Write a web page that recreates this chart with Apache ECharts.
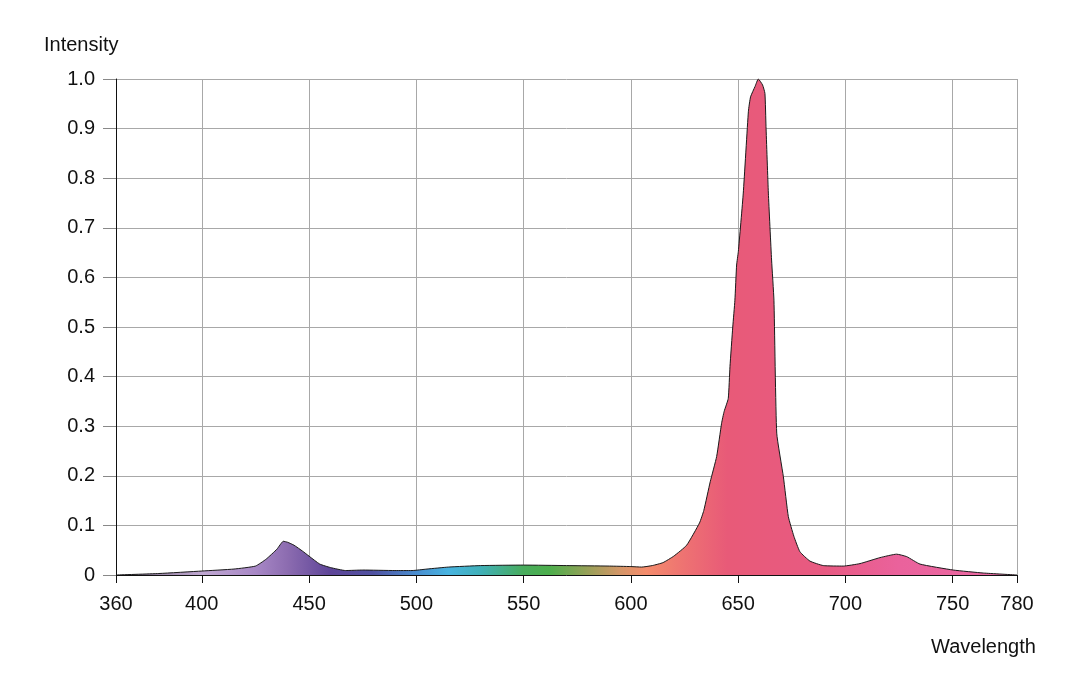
<!DOCTYPE html>
<html>
<head>
<meta charset="utf-8">
<script src="https://cdn.jsdelivr.net/npm/echarts@6/dist/echarts.min.js"></script>
<style>html,body{margin:0;padding:0;background:#fff}#c{width:1080px;height:693px}</style>
</head>
<body>
<div id="c"></div>
<script>
const wavelengths = [360,380,400,415,425,430,435,438,440,443,447,450,455,460,467,475,490,498,505,515,530,550,570,590,600,605,610,615,620,626,632,634,637,640,642.3,643.5,645.4,646.2,647.5,648.5,649.3,650.1,652.4,654.8,655.8,657.9,659.4,661.4,662.5,663,664.1,665.6,666.7,668,671.1,673.4,676,678.8,683.5,689.7,699,706.8,716.1,723.9,728.6,734.8,750.3,764.3,780];
const intensity = [0,0.003,0.008,0.012,0.018,0.032,0.052,0.068,0.066,0.06,0.048,0.038,0.022,0.015,0.009,0.010,0.009,0.009,0.012,0.016,0.019,0.020,0.019,0.018,0.017,0.016,0.019,0.025,0.038,0.06,0.105,0.13,0.188,0.239,0.306,0.33,0.356,0.42,0.5,0.554,0.625,0.652,0.77,0.935,0.964,0.985,1.0,0.988,0.971,0.904,0.77,0.635,0.554,0.286,0.198,0.118,0.078,0.047,0.028,0.019,0.018,0.023,0.035,0.042,0.037,0.022,0.010,0.004,0];
const xTickValues = [360,400,450,500,550,600,650,700,750,780];
const xMin = 360, xMax = 780;
const yMin = 0, yMax = 1, yStep = 0.1;
const spectrumStops = [
  [360,'#7a6a82'],[400,'#c0a8d2'],[425,'#a888c6'],[440,'#8c6cb0'],[460,'#5e4598'],
  [480,'#5052a2'],[500,'#4a8ed0'],[515,'#48b4e0'],[530,'#40b0b8'],[550,'#48ac5c'],
  [562,'#4cae4c'],[580,'#98a058'],[595,'#d49668'],[607,'#f48c6c'],[625,'#ee7272'],
  [645,'#e85a78'],[690,'#e85a82'],[725,'#ea629c'],[780,'#ec6aa4']
];

const data = wavelengths.map((w,i)=>[w,intensity[i]]);
const FONT = 'Liberation Sans';
const chart = echarts.init(document.getElementById('c'), null, {renderer:'canvas'});
chart.setOption({
  animation:false,
  backgroundColor:'#fff',
  grid:{left:116,right:63,top:79,bottom:118,containLabel:false},
  xAxis:{
    type:'value', min:xMin, max:xMax,
    axisLine:{show:true,onZero:false,lineStyle:{color:'#111',width:1}},
    axisTick:{show:true,length:8,lineStyle:{color:'#111'},customValues:xTickValues},
    axisLabel:{customValues:xTickValues,color:'#111',fontSize:20,fontFamily:FONT,margin:19,showMinLabel:true,showMaxLabel:true},
    splitLine:{show:true,lineStyle:{color:'#a8a8a8',width:1}}
  },
  yAxis:{
    type:'value', min:yMin, max:yMax, interval:yStep,
    axisLine:{show:true,lineStyle:{color:'#111',width:1}},
    axisTick:{show:true,length:13,lineStyle:{color:'#888'}},
    axisLabel:{color:'#111',fontSize:20,fontFamily:FONT,margin:21,
      formatter:v=> v===0 ? '0' : v.toFixed(1)},
    splitLine:{show:true,lineStyle:{color:'#a8a8a8',width:1}}
  },
  graphic:[
    {type:'text',left:44,top:35,style:{text:'Intensity',font:'20px "Liberation Sans"',fill:'#111'}},
    {type:'text',left:931,top:637,style:{text:'Wavelength',font:'20px "Liberation Sans"',fill:'#111'}}
  ],
  series:[{
    type:'line', data:data, symbol:'none', smooth:0.15,
    lineStyle:{color:'#1a1a1a',width:1},
    areaStyle:{opacity:1,color:new echarts.graphic.LinearGradient(0,0,1,0,
      spectrumStops.map(s=>({offset:(s[0]-xMin)/(xMax-xMin),color:s[1]})))},
    z:3
  }]
});
</script>
</body>
</html>
